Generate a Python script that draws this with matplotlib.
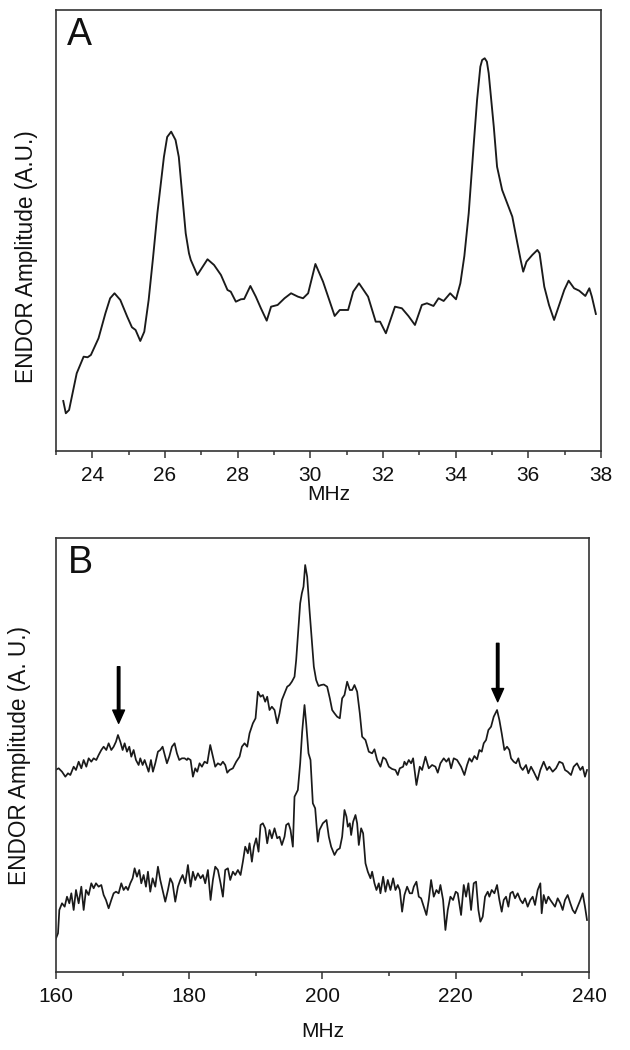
import matplotlib
matplotlib.use("Agg")
import matplotlib.pyplot as plt
from matplotlib.ticker import MultipleLocator

plt.rcParams['font.family'] = ['Liberation Sans', 'DejaVu Sans']

# ---------------- Panel A data ----------------
A_MHZ = [23.2, 23.27, 23.36, 23.57, 23.76, 23.87, 23.96, 24.17, 24.36, 24.49,
         24.61, 24.77, 24.96, 25.09, 25.19, 25.32, 25.43, 25.55, 25.67, 25.79,
         25.97, 26.06, 26.17, 26.29, 26.38, 26.57, 26.66, 26.71, 26.89, 27.17,
         27.35, 27.54, 27.72, 27.81, 27.95, 28.09, 28.18, 28.35, 28.5, 28.64,
         28.8, 28.92, 29.1, 29.29, 29.47, 29.66, 29.8, 29.94, 30.14, 30.35,
         30.49, 30.67, 30.81, 31.04, 31.18, 31.34, 31.59, 31.8, 31.92, 32.08,
         32.33, 32.52, 32.7, 32.88, 33.07, 33.21, 33.39, 33.53, 33.67, 33.85,
         34.01, 34.13, 34.24, 34.36, 34.5, 34.59, 34.68, 34.73, 34.8, 34.86,
         34.91, 35.05, 35.14, 35.28, 35.56, 35.7, 35.79, 35.86, 35.95, 36.11,
         36.25, 36.31, 36.44, 36.57, 36.71, 36.85, 36.99, 37.11, 37.26, 37.4,
         37.57, 37.68, 37.75, 37.86]
A_AMP = [50, 37.7, 41, 77.7, 94.3, 93.7, 96, 112.7, 137.7, 152.7,
         157.7, 151, 134.3, 123.7, 121, 110, 119.3, 151, 193, 237.7,
         294, 314, 319.3, 311, 294, 217.7, 197.7, 191, 176, 191.7,
         186, 176, 161, 159.3, 149.3, 151.7, 152, 165, 154.3, 142.7,
         130.3, 144.3, 146, 152.7, 157.7, 154.3, 152.7, 157.7, 187, 169.3,
         154.3, 135, 141, 141, 159.3, 167.7, 154.3, 129.3, 129.3, 117.7,
         144.3, 142.7, 135, 126, 146, 147.7, 145, 152.7, 150, 157.7,
         151.7, 167.7, 195, 237.7, 307.7, 351, 384.3, 391, 392.7, 389.3,
         377.7, 324.3, 284.3, 261, 234.3, 207.7, 191, 179.3, 189.3, 196,
         201, 197.7, 164.3, 146, 131, 146, 161, 170.3, 162.7, 160.3,
         155, 162.7, 154.3, 137]

# ---------------- Panel B data (upper trace) ----------------
B_UP_MHZ = [159.9, 160.4, 160.9, 161.4, 161.8, 162.15, 162.65, 163.0, 163.4, 163.8,
            164.15, 164.55, 164.9, 165.3, 165.65, 166.05, 166.4, 166.8, 167.15, 167.55,
            167.9, 168.3, 168.65, 169.0, 169.3, 169.65, 170.0, 170.3, 170.65, 171.0,
            171.3, 171.65, 172.0, 172.4, 172.65, 173.0, 173.3, 173.65, 173.9, 174.25,
            174.55, 174.9, 175.3, 175.65, 176.0, 176.4, 176.65, 177.0, 177.4, 177.8,
            178.15, 178.5, 178.9, 179.3, 179.65,
            179.8, 180.2, 180.55, 180.9, 181.2, 181.55, 181.9, 182.3, 182.7, 183.15,
            183.55, 183.9, 184.3, 184.7, 185.05, 185.4, 185.7, 186.05, 186.55, 187.05,
            187.55, 187.9, 188.3, 188.7, 189.05, 189.55, 189.95, 190.3, 190.7, 191.05,
            191.4, 191.7, 192.05, 192.4, 192.8, 193.2, 193.55, 193.9, 194.3, 194.7,
            195.05, 195.4, 195.8, 196.05, 196.3, 196.65, 196.9, 197.15, 197.4, 197.7,
            198.05, 198.4, 198.7, 199.05, 199.4, 199.8,
            200.2, 200.7, 201.1, 201.45, 201.8, 202.2, 202.6, 202.95, 203.3, 203.7,
            204.1, 204.45, 204.8, 205.2, 205.6, 205.95, 206.45, 206.95, 207.45, 207.8,
            208.2, 208.7, 209.1, 209.5, 209.95, 210.45, 210.95, 211.3, 211.6, 212.1,
            212.3, 212.6, 212.95, 213.3, 213.6, 214.1, 214.6, 214.95, 215.45, 215.95,
            216.45, 216.95, 217.3, 217.7, 218.2, 218.6, 218.95, 219.3, 219.7, 220.2,
            220.8, 221.3, 221.7, 222.05, 222.4, 222.8, 223.2, 223.55, 223.9, 224.2,
            224.55, 224.9, 225.3, 225.7, 226.2, 226.55, 226.9, 227.3, 227.7, 228.05,
            228.3, 228.7, 229.05, 229.4, 229.7, 230.05, 230.55, 230.9, 231.3, 231.7,
            232.3, 232.7, 233.2, 233.7, 234.05, 234.55, 235.05, 235.55, 236.05, 236.4,
            236.8, 237.3, 237.7, 238.2, 238.7, 239.05, 239.4, 239.7]
B_UP_AMP = [202, 203.7, 200.3, 195.3, 198.7, 197, 205.3, 202, 210.3, 203.7,
            212, 205.3, 213.7, 210.3, 213.7, 212, 217, 222, 225.3, 222,
            228.7, 222, 225.3, 230.3, 237, 230.3, 222, 228.7, 220.3, 225.3,
            215.3, 222, 212, 207, 213.7, 207, 212, 205.3, 200.3, 212,
            200.3, 208.7, 220.3, 222, 225.3, 215.3, 208.7, 215.3, 225.3, 228.7,
            218.7, 212, 213.7, 213.7, 212,
            213.7, 212, 195.3, 203.7, 200.3, 208.7, 205.3, 210.3, 208.7, 227,
            215.3, 205.3, 208.7, 207, 210.3, 207, 199.3, 202, 203.7, 210.3,
            215.3, 225.3, 228.7, 225.3, 238.7, 248.7, 253.7, 280.3, 275.3, 277,
            270.3, 275.3, 262, 265.3, 262, 248.7, 258.7, 272, 278.7, 285.3,
            287, 290.3, 295.3, 312, 335.3, 368.7, 378.7, 385.3, 407, 395.3,
            362, 332, 305.3, 292, 286, 287,
            287.5, 285.3, 273.7, 262, 258.7, 255.3, 253.7, 273.7, 277, 290.3,
            282, 282, 287, 280.3, 258.7, 235.3, 232, 220.3, 218.7, 222.7,
            212, 205.3, 214.7, 212.7, 205.3, 203, 202, 197, 203.7, 205.3,
            210.3, 207, 212, 208.7, 213.7, 187, 205.3, 202, 215.3, 203.7,
            207, 205.3, 199.3, 208.7, 213.7, 210.3, 213.7, 203.7, 213.7, 212,
            205.3, 197, 207, 213.7, 210.3, 216, 212.7, 222, 220.3, 228.7,
            232, 242, 245.3, 255.3, 262, 252, 238.7, 222, 225.3, 222,
            213.7, 210.3, 208.7, 213.7, 205.3, 202, 207, 198.7, 205.3, 200.3,
            192, 202, 210.3, 202, 205.3, 200.3, 203.7, 210.3, 208.7, 202,
            200.3, 197, 205.3, 208.7, 202, 205.3, 195.3, 202]

# ---------------- Panel B data (lower trace) ----------------
B_LO_MHZ = [159.65, 159.9, 160.3, 160.5, 160.9, 161.3, 161.65, 162.0, 162.3, 162.65,
            163.0, 163.4, 163.8, 164.15, 164.5, 164.9, 165.3, 165.65, 166.0, 166.4,
            166.8, 167.15, 167.5, 167.9, 168.3, 168.65, 169.0, 169.4, 169.8, 170.15,
            170.5, 170.8, 171.15, 171.5, 171.8, 172.15, 172.5, 172.8, 173.15, 173.5,
            173.8, 174.15, 174.5, 174.9, 175.3, 175.65, 176.0, 176.4, 176.8, 177.15,
            177.5, 177.9, 178.3, 178.65, 179.0, 179.4, 179.8,
            180.2, 180.55, 180.9, 181.3, 181.7, 182.05, 182.4, 182.8, 183.2, 183.55,
            183.9, 184.3, 184.7, 185.05, 185.4, 185.8, 186.15, 186.55, 186.9, 187.3,
            187.7, 188.05, 188.4, 188.8, 189.05, 189.4, 189.7, 190.05, 190.4, 190.7,
            191.05, 191.4, 191.7, 192.05, 192.4, 192.8, 193.2, 193.55, 193.9, 194.3,
            194.55, 194.9, 195.2, 195.55, 195.8, 196.3, 196.65, 196.95, 197.3, 197.55,
            197.9, 198.2, 198.55, 198.9, 199.3, 199.55, 200.05,
            200.6, 200.95, 201.3, 201.8, 202.2, 202.6, 202.95, 203.3, 203.6, 203.8,
            204.1, 204.3, 204.6, 204.95, 205.2, 205.45, 205.8, 206.1, 206.45, 206.8,
            207.2, 207.45, 207.8, 208.1, 208.45, 208.7, 209.1, 209.45, 209.8, 210.2,
            210.6, 210.95, 211.3, 211.6, 211.95, 212.3, 212.7, 213.1, 213.45, 213.7,
            214.1, 214.45, 214.8, 215.2, 215.6, 215.95, 216.3, 216.7, 217.1, 217.45,
            217.7, 218.1, 218.45, 218.8, 219.2, 219.6, 220.0,
            220.3, 220.8, 221.2, 221.55, 221.9, 222.3, 222.7, 223.05, 223.4, 223.7,
            224.05, 224.4, 224.8, 225.05, 225.4, 225.8, 226.2, 226.55, 226.9, 227.2,
            227.55, 227.9, 228.2, 228.55, 228.9, 229.3, 229.7, 230.05, 230.4, 230.8,
            231.2, 231.55, 231.9, 232.3, 232.7, 232.9, 233.2, 233.55, 233.9, 234.2,
            234.55, 234.9, 235.3, 235.7, 236.05, 236.4, 236.8, 237.2, 237.55, 237.9,
            238.3, 238.7, 239.05, 239.4, 239.7]
B_LO_AMP = [55.3, 32, 38.7, 62, 68.7, 65.3, 75.3, 68.7, 78.7, 62,
            82, 68.7, 85.3, 62, 82, 77, 88.7, 83.7, 88.7, 85.3,
            87, 77, 72, 63.7, 72, 78.7, 80.3, 78.7, 88.7, 82,
            85.3, 82, 88.7, 93.7, 103.7, 95.3, 102, 88.7, 97, 85.3,
            100.3, 80.3, 93.7, 85.3, 105.3, 92, 82, 70.3, 82, 93.7,
            88.7, 70.3, 85.3, 92, 97, 88.7, 107,
            85.3, 100.3, 92, 98.7, 93.7, 97, 88.7, 102, 72, 92,
            105.3, 102, 88.7, 75.3, 102, 103.7, 92, 100.3, 97, 102,
            97, 110.3, 125.3, 118.7, 128.7, 110.3, 125.3, 133.7, 120.3, 147,
            148.7, 143.7, 128.7, 142, 133.7, 143.7, 133.7, 135.3, 127, 135.3,
            147, 148.7, 142, 125.3, 175.3, 182, 208.7, 240.3, 267, 248.7,
            218.7, 212, 168.7, 163.7, 130.3, 142, 148.7,
            152, 135.3, 125.3, 117, 122, 123.7, 135.3, 162, 155.3, 145.3,
            148.7, 137, 150.3, 157, 148.7, 127, 143.7, 138.7, 108.7, 100.3,
            93.7, 100.3, 88.7, 82, 88.7, 78.7, 95.3, 80.3, 92, 82,
            93.7, 82, 87, 82, 60.3, 77, 85.3, 78.7, 78.7, 85.3,
            90.3, 75.3, 73.7, 65.3, 57, 72, 92, 75.3, 82, 78.7,
            87, 72, 42, 62, 75.3, 72, 80.3,
            78.7, 57, 87, 75.3, 88.7, 62, 88.7, 90.3, 62, 50.3,
            55.3, 75.3, 80.3, 75.3, 82, 78.7, 87, 72, 60.3, 72,
            75.3, 65.3, 78.7, 80.3, 73.7, 78.7, 72, 68.7, 73.7, 65.3,
            72, 75.3, 67, 82, 88.7, 58.7, 77, 68.7, 75.3, 72,
            68.7, 65.3, 73.7, 68.7, 62, 72, 77, 68.7, 62, 58.7,
            65.3, 72, 78.7, 65.3, 52]

# Arrows (panel B)
ARROW_MHZ = [169.4, 226.3]
ARROW_TOP = [305.3, 328.7]
ARROW_TIP = [248.7, 270.3]

LINE_COLOR = '#1a1a1a'
SPINE_COLOR = '#333333'
FS = 15
FS_Y = 16.3

fig = plt.figure(figsize=(6.3, 10.5), dpi=100)
axA = fig.add_axes([0.0889, 0.5705, 0.865, 0.42])
axB = fig.add_axes([0.0889, 0.0743, 0.846, 0.4133])

def style(ax):
    for s in ax.spines.values():
        s.set_color(SPINE_COLOR)
        s.set_linewidth(1.2)
    ax.set_yticks([])
    ax.tick_params(axis='x', which='major', direction='out', length=5, width=1.1,
                   labelsize=FS, pad=6, colors=SPINE_COLOR, labelcolor='#111111')
    ax.tick_params(axis='x', which='minor', direction='out', length=3, width=1.1,
                   colors=SPINE_COLOR)

# Panel A
axA.plot(A_MHZ, A_AMP, color=LINE_COLOR, lw=1.35, solid_joinstyle='round')
axA.set_xlim(23, 38)
axA.set_ylim(0, 441)
axA.xaxis.set_major_locator(MultipleLocator(2))
axA.xaxis.set_minor_locator(MultipleLocator(1))
style(axA)
axA.set_xlabel('MHz', fontsize=FS, labelpad=0, color='#111111')
axA.set_ylabel('ENDOR Amplitude (A.U.)', fontsize=FS_Y, color='#111111')
axA.yaxis.set_label_coords(-0.033, 0.44)
axA.text(0.02, 0.985, 'A', transform=axA.transAxes, fontsize=27,
         ha='left', va='top', color='#111111')

# Panel B
axB.plot(B_UP_MHZ, B_UP_AMP, color=LINE_COLOR, lw=1.25, solid_joinstyle='round')
axB.plot(B_LO_MHZ, B_LO_AMP, color=LINE_COLOR, lw=1.25, solid_joinstyle='round')
axB.set_xlim(160, 240)
axB.set_ylim(0, 434)
axB.xaxis.set_major_locator(MultipleLocator(20))
axB.xaxis.set_minor_locator(MultipleLocator(10))
style(axB)
axB.set_xlabel('MHz', fontsize=FS, labelpad=11, color='#111111')
axB.set_ylabel('ENDOR Amplitude (A. U.)', fontsize=FS_Y, color='#111111')
axB.yaxis.set_label_coords(-0.046, 0.5)
axB.text(0.022, 0.985, 'B', transform=axB.transAxes, fontsize=27,
         ha='left', va='top', color='#111111')

for xm, yt, yh in zip(ARROW_MHZ, ARROW_TOP, ARROW_TIP):
    axB.annotate('', xy=(xm, yh), xytext=(xm, yt),
                 arrowprops=dict(facecolor='black', edgecolor='black',
                                 width=1.8, headwidth=8.5, headlength=9.5, shrink=0))

fig.savefig('out.png', dpi=100)
